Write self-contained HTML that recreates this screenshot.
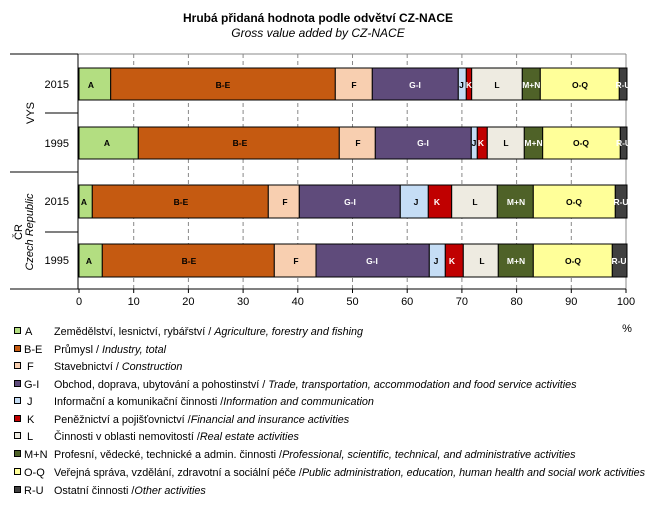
<!DOCTYPE html>
<html><head><meta charset="utf-8"><style>
body{margin:0;background:#fff;}
svg{display:block;font-family:"Liberation Sans",Arial,sans-serif;}
</style></head><body>
<svg width="653" height="520" viewBox="0 0 653 520" xmlns="http://www.w3.org/2000/svg">
<text x="318" y="22" text-anchor="middle" font-size="12" font-weight="bold">Hrubá přidaná hodnota podle odvětví CZ-NACE</text>
<text x="318" y="37" text-anchor="middle" font-size="12" font-style="italic">Gross value added by CZ-NACE</text>
<line x1="78" y1="54" x2="626" y2="54" stroke="#888"/>
<line x1="626" y1="54" x2="626" y2="289" stroke="#888"/>
<g stroke="#888" stroke-dasharray="4,3">
<line x1="133.7" y1="54" x2="133.7" y2="289"/><line x1="188.4" y1="54" x2="188.4" y2="289"/><line x1="243.1" y1="54" x2="243.1" y2="289"/><line x1="297.8" y1="54" x2="297.8" y2="289"/><line x1="352.5" y1="54" x2="352.5" y2="289"/><line x1="407.2" y1="54" x2="407.2" y2="289"/><line x1="461.9" y1="54" x2="461.9" y2="289"/><line x1="516.6" y1="54" x2="516.6" y2="289"/><line x1="571.3" y1="54" x2="571.3" y2="289"/>
</g>
<g stroke="#000" stroke-width="1">
<line x1="10" y1="54" x2="78" y2="54"/><line x1="45" y1="113" x2="78" y2="113"/><line x1="10" y1="172" x2="78" y2="172"/><line x1="45" y1="232" x2="78" y2="232"/><line x1="10" y1="289" x2="626" y2="289"/>
<line x1="78" y1="54" x2="78" y2="289"/>
<line x1="79" y1="289" x2="79" y2="293"/><line x1="133.7" y1="289" x2="133.7" y2="293"/><line x1="188.4" y1="289" x2="188.4" y2="293"/><line x1="243.1" y1="289" x2="243.1" y2="293"/><line x1="297.8" y1="289" x2="297.8" y2="293"/><line x1="352.5" y1="289" x2="352.5" y2="293"/><line x1="407.2" y1="289" x2="407.2" y2="293"/><line x1="461.9" y1="289" x2="461.9" y2="293"/><line x1="516.6" y1="289" x2="516.6" y2="293"/><line x1="571.3" y1="289" x2="571.3" y2="293"/><line x1="626" y1="289" x2="626" y2="293"/>
</g>
<g font-size="11" text-anchor="middle">
<text x="79" y="305">0</text><text x="133.7" y="305">10</text><text x="188.4" y="305">20</text><text x="243.1" y="305">30</text><text x="297.8" y="305">40</text><text x="352.5" y="305">50</text><text x="407.2" y="305">60</text><text x="461.9" y="305">70</text><text x="516.6" y="305">80</text><text x="571.3" y="305">90</text><text x="626" y="305">100</text>
<text x="627" y="332">%</text>
</g>
<g font-size="11" text-anchor="end">
<text x="69" y="88">2015</text><text x="69" y="147">1995</text><text x="69" y="205">2015</text><text x="69" y="264">1995</text>
</g>
<text transform="translate(34,113) rotate(-90)" text-anchor="middle" font-size="11">VYS</text>
<text transform="translate(22,232) rotate(-90)" text-anchor="middle" font-size="11">ČR</text>
<text transform="translate(33,232) rotate(-90)" text-anchor="middle" font-size="11" font-style="italic">Czech Republic</text>
<g stroke="#000" stroke-width="1">
<rect x="79" y="68" width="31.7" height="32" fill="#b3de81"/>
<rect x="110.7" y="68" width="224.6" height="32" fill="#c55a11"/>
<rect x="335.3" y="68" width="37" height="32" fill="#f8cfb0"/>
<rect x="372.3" y="68" width="86" height="32" fill="#5f4b7b"/>
<rect x="458.3" y="68" width="8" height="32" fill="#c5ddf5"/>
<rect x="466.3" y="68" width="5.4" height="32" fill="#c00000"/>
<rect x="471.7" y="68" width="50.6" height="32" fill="#eeebe1"/>
<rect x="522.3" y="68" width="18" height="32" fill="#4f6228"/>
<rect x="540.3" y="68" width="79" height="32" fill="#ffff99"/>
<rect x="619.3" y="68" width="7.7" height="32" fill="#404040"/>
<rect x="79" y="127" width="59.3" height="32" fill="#b3de81"/>
<rect x="138.3" y="127" width="201" height="32" fill="#c55a11"/>
<rect x="339.3" y="127" width="36" height="32" fill="#f8cfb0"/>
<rect x="375.3" y="127" width="96" height="32" fill="#5f4b7b"/>
<rect x="471.3" y="127" width="6" height="32" fill="#c5ddf5"/>
<rect x="477.3" y="127" width="10" height="32" fill="#c00000"/>
<rect x="487.3" y="127" width="37" height="32" fill="#eeebe1"/>
<rect x="524.3" y="127" width="18.4" height="32" fill="#4f6228"/>
<rect x="542.7" y="127" width="77.6" height="32" fill="#ffff99"/>
<rect x="620.3" y="127" width="6.7" height="32" fill="#404040"/>
<rect x="79" y="185" width="13.3" height="33" fill="#b3de81"/>
<rect x="92.3" y="185" width="176" height="33" fill="#c55a11"/>
<rect x="268.3" y="185" width="31" height="33" fill="#f8cfb0"/>
<rect x="299.3" y="185" width="101" height="33" fill="#5f4b7b"/>
<rect x="400.3" y="185" width="28" height="33" fill="#c5ddf5"/>
<rect x="428.3" y="185" width="23.4" height="33" fill="#c00000"/>
<rect x="451.7" y="185" width="45.6" height="33" fill="#eeebe1"/>
<rect x="497.3" y="185" width="36" height="33" fill="#4f6228"/>
<rect x="533.3" y="185" width="82" height="33" fill="#ffff99"/>
<rect x="615.3" y="185" width="11.7" height="33" fill="#404040"/>
<rect x="79" y="244" width="23.3" height="33" fill="#b3de81"/>
<rect x="102.3" y="244" width="172" height="33" fill="#c55a11"/>
<rect x="274.3" y="244" width="41.7" height="33" fill="#f8cfb0"/>
<rect x="316" y="244" width="113.3" height="33" fill="#5f4b7b"/>
<rect x="429.3" y="244" width="16" height="33" fill="#c5ddf5"/>
<rect x="445.3" y="244" width="18" height="33" fill="#c00000"/>
<rect x="463.3" y="244" width="35" height="33" fill="#eeebe1"/>
<rect x="498.3" y="244" width="35" height="33" fill="#4f6228"/>
<rect x="533.3" y="244" width="79" height="33" fill="#ffff99"/>
<rect x="612.3" y="244" width="14.7" height="33" fill="#404040"/>
</g>
<g font-size="8.5" text-anchor="middle" font-weight="bold">
<text x="91" y="88">A</text><text x="223" y="88">B-E</text><text x="354" y="88">F</text><text x="415" y="88" fill="#fff">G-I</text><text x="461.5" y="88">J</text><text x="469" y="88" fill="#fff">K</text><text x="497" y="88">L</text><text x="531.3" y="88" fill="#fff">M+N</text><text x="580" y="88">O-Q</text><text x="623" y="88" fill="#fff">R-U</text>
<text x="107" y="146">A</text><text x="240" y="146">B-E</text><text x="358" y="146">F</text><text x="423" y="146" fill="#fff">G-I</text><text x="474" y="146">J</text><text x="481" y="146" fill="#fff">K</text><text x="506" y="146">L</text><text x="533.5" y="146" fill="#fff">M+N</text><text x="581" y="146">O-Q</text><text x="623.5" y="146" fill="#fff">R-U</text>
<text x="84" y="205">A</text><text x="181" y="205">B-E</text><text x="285" y="205">F</text><text x="350" y="205" fill="#fff">G-I</text><text x="416" y="205">J</text><text x="437" y="205" fill="#fff">K</text><text x="475" y="205">L</text><text x="516" y="205" fill="#fff">M+N</text><text x="574" y="205">O-Q</text><text x="621" y="205" fill="#fff">R-U</text>
<text x="89" y="264">A</text><text x="189" y="264">B-E</text><text x="296" y="264">F</text><text x="372" y="264" fill="#fff">G-I</text><text x="436" y="264">J</text><text x="452" y="264" fill="#fff">K</text><text x="482" y="264">L</text><text x="516" y="264" fill="#fff">M+N</text><text x="573" y="264">O-Q</text><text x="619" y="264" fill="#fff">R-U</text>
</g>
<g stroke="#000" stroke-width="1">
<rect x="14.5" y="327.5" width="6" height="6" fill="#b3de81"/>
<rect x="14.5" y="345.5" width="6" height="6" fill="#c55a11"/>
<rect x="14.5" y="362.5" width="6" height="6" fill="#f8cfb0"/>
<rect x="14.5" y="380.5" width="6" height="6" fill="#5f4b7b"/>
<rect x="14.5" y="397.5" width="6" height="6" fill="#c5ddf5"/>
<rect x="14.5" y="415.5" width="6" height="6" fill="#c00000"/>
<rect x="14.5" y="432.5" width="6" height="6" fill="#eeebe1"/>
<rect x="14.5" y="450.5" width="6" height="6" fill="#4f6228"/>
<rect x="14.5" y="468.5" width="6" height="6" fill="#ffff99"/>
<rect x="14.5" y="486.5" width="6" height="6" fill="#404040"/>
</g>
<g font-size="11">
<text x="25" y="335">A</text><text x="24" y="353">B-E</text><text x="27" y="370">F</text><text x="24" y="388">G-I</text><text x="27" y="405">J</text><text x="27" y="423">K</text><text x="27" y="440">L</text><text x="24" y="458">M+N</text><text x="24" y="476">O-Q</text><text x="24" y="494">R-U</text>
</g>
<g font-size="10.8">
<text x="54" y="335">Zemědělství, lesnictví, rybářství / <tspan font-style="italic">Agriculture, forestry and fishing</tspan></text>
<text x="54" y="353">Průmysl / <tspan font-style="italic">Industry, total</tspan></text>
<text x="54" y="370">Stavebnictví / <tspan font-style="italic">Construction</tspan></text>
<text x="54" y="388">Obchod, doprava, ubytování a pohostinství / <tspan font-style="italic">Trade, transportation, accommodation and food service activities</tspan></text>
<text x="54" y="405">Informační a komunikační činnosti /<tspan font-style="italic">Information and communication</tspan></text>
<text x="54" y="423">Peněžnictví a pojišťovnictví /<tspan font-style="italic">Financial and insurance activities</tspan></text>
<text x="54" y="440">Činnosti v oblasti nemovitostí /<tspan font-style="italic">Real estate activities</tspan></text>
<text x="54" y="458">Profesní, vědecké, technické a admin. činnosti /<tspan font-style="italic">Professional, scientific, technical, and administrative activities</tspan></text>
<text x="54" y="476" textLength="591" lengthAdjust="spacing">Veřejná správa, vzdělání, zdravotní a sociální péče /<tspan font-style="italic">Public administration, education, human health  and social work activities</tspan></text>
<text x="54" y="494">Ostatní činnosti /<tspan font-style="italic">Other activities</tspan></text>
</g>
</svg>
</body></html>
